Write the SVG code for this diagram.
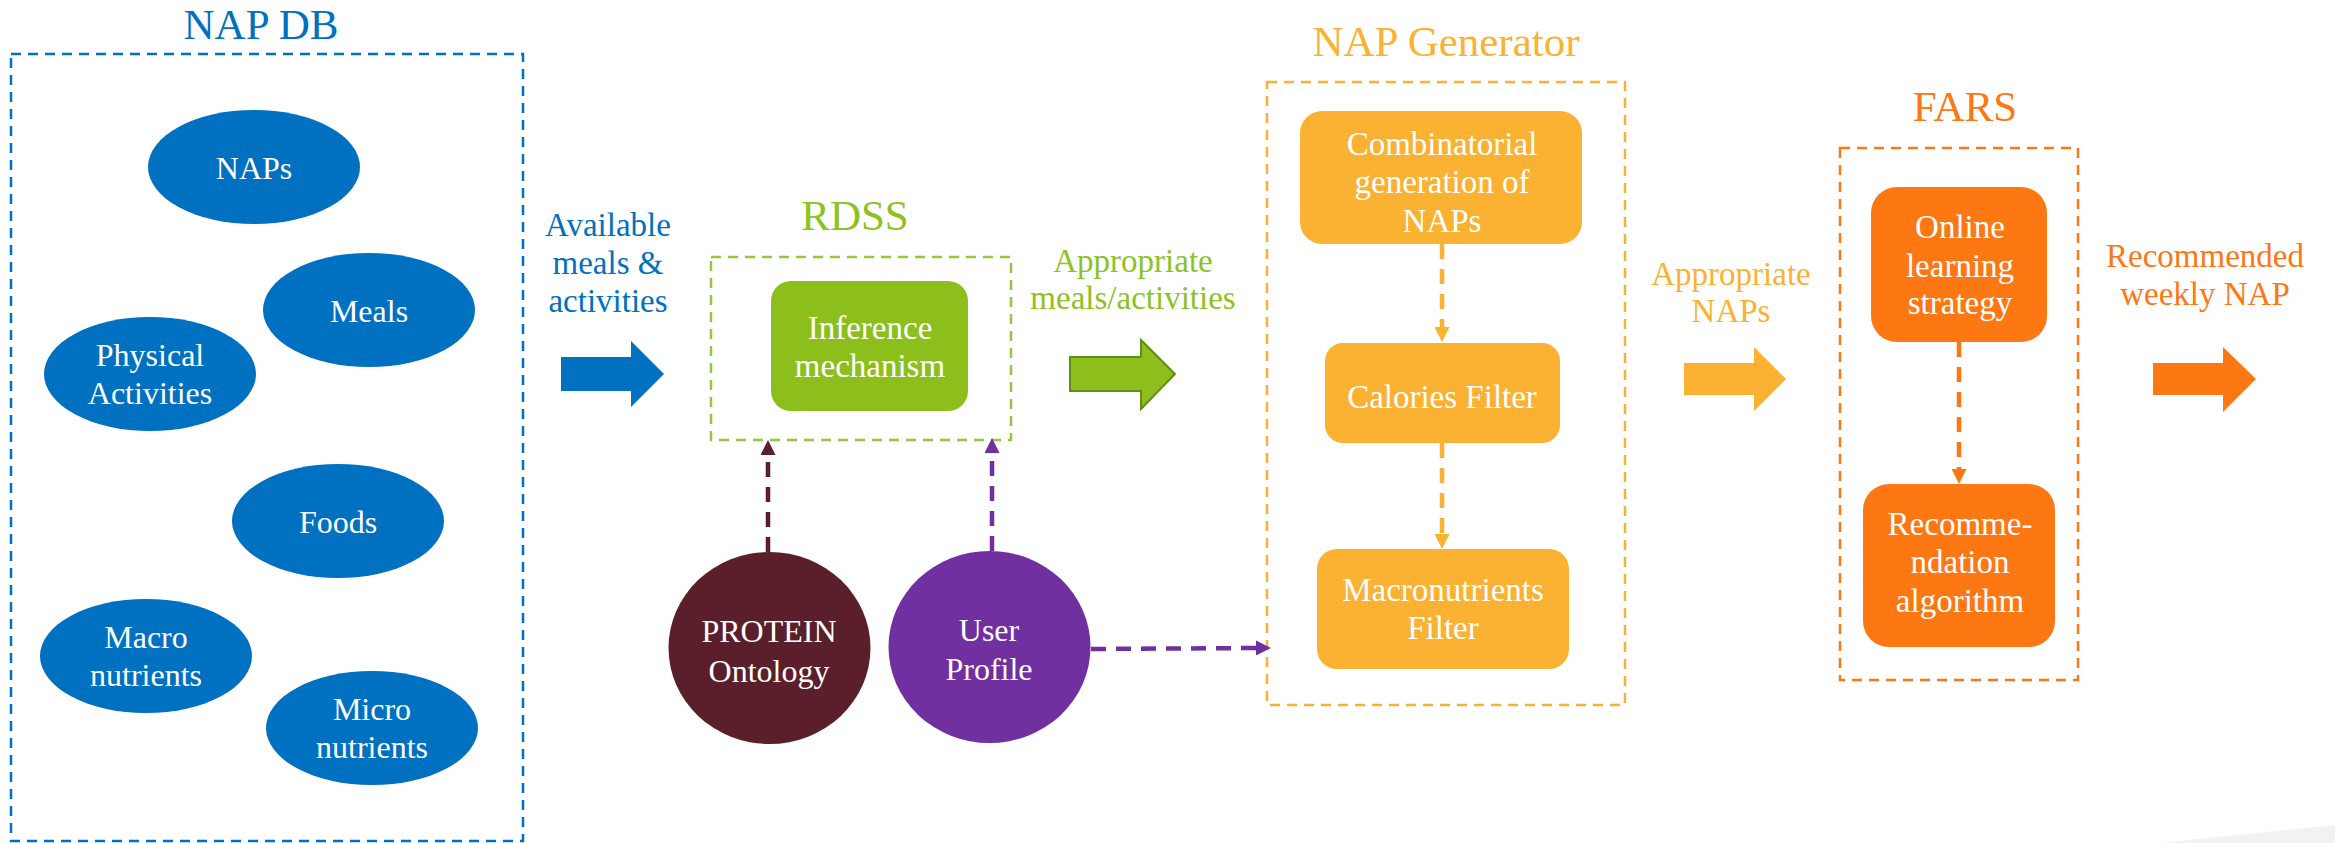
<svg xmlns="http://www.w3.org/2000/svg" width="2335" height="843" viewBox="0 0 2335 843">
<defs>
<style>
text{font-family:"Liberation Serif","DejaVu Serif",serif;text-anchor:middle}
.title{font-size:43px}
.lbl{font-size:33px}
.nt{font-size:32px;fill:#ffffff}
.box{fill:none;stroke-width:2.5;stroke-dasharray:10 7}
.con{fill:none;stroke-width:4.5;stroke-dasharray:15 10}
</style>
<marker id="mMaroon" viewBox="0 0 10 10" refX="0" refY="5" markerUnits="userSpaceOnUse" markerWidth="15" markerHeight="15" orient="auto"><path d="M0,0 L10,5 L0,10 z" fill="#5B1F2C"/></marker>
<marker id="mPurple" viewBox="0 0 10 10" refX="0" refY="5" markerUnits="userSpaceOnUse" markerWidth="15" markerHeight="15" orient="auto"><path d="M0,0 L10,5 L0,10 z" fill="#7030A0"/></marker>
<marker id="mYellow" viewBox="0 0 10 10" refX="0" refY="5" markerUnits="userSpaceOnUse" markerWidth="15" markerHeight="15" orient="auto"><path d="M0,0 L10,5 L0,10 z" fill="#FBB131"/></marker>
<marker id="mOrange" viewBox="0 0 10 10" refX="0" refY="5" markerUnits="userSpaceOnUse" markerWidth="15" markerHeight="15" orient="auto"><path d="M0,0 L10,5 L0,10 z" fill="#FD7713"/></marker>
</defs>
<rect width="2335" height="843" fill="#ffffff"/>
<polygon points="2160,843 2335,825 2335,843" fill="#F2F2F2"/>

<!-- Group containers -->
<g id="napdb">
<text class="title" x="261" y="39" fill="#0070C0">NAP DB</text>
<rect class="box" x="11" y="54" width="512" height="787" stroke="#0070C0"/>
</g>
<g id="rdss">
<text class="title" x="855" y="230" fill="#8DC21F">RDSS</text>
<rect class="box" x="711" y="257" width="300" height="183" stroke="#92C83E"/>
</g>
<g id="napgen">
<text class="title" x="1446" y="56" fill="#FBB131">NAP Generator</text>
<rect class="box" x="1267" y="82" width="358" height="623" stroke="#FBB131"/>
</g>
<g id="fars">
<text class="title" x="1965" y="121" fill="#FD7713">FARS</text>
<rect class="box" x="1840" y="148" width="238" height="532" stroke="#FD7713"/>
</g>

<!-- NAP DB nodes -->
<g id="naps"><ellipse cx="254" cy="167" rx="106" ry="57" fill="#0070C0"/><text class="nt" x="254" y="179">NAPs</text></g>
<g id="meals"><ellipse cx="369" cy="310" rx="106" ry="57" fill="#0070C0"/><text class="nt" x="369" y="322">Meals</text></g>
<g id="physical"><ellipse cx="150" cy="374" rx="106" ry="57" fill="#0070C0"/><text class="nt" x="150" y="366">Physical</text><text class="nt" x="150" y="404">Activities</text></g>
<g id="foods"><ellipse cx="338" cy="521" rx="106" ry="57" fill="#0070C0"/><text class="nt" x="338" y="533">Foods</text></g>
<g id="macro"><ellipse cx="146" cy="656" rx="106" ry="57" fill="#0070C0"/><text class="nt" x="146" y="648">Macro</text><text class="nt" x="146" y="686">nutrients</text></g>
<g id="micro"><ellipse cx="372" cy="728" rx="106" ry="57" fill="#0070C0"/><text class="nt" x="372" y="720">Micro</text><text class="nt" x="372" y="758">nutrients</text></g>

<!-- RDSS node -->
<g id="inference"><rect x="771" y="281" width="197" height="130" rx="20" fill="#8CBF1C"/><text class="nt" x="870" y="339" style="font-size:33px">Inference</text><text class="nt" x="870" y="377" style="font-size:33px">mechanism</text></g>

<!-- Sources -->
<g id="protein"><ellipse cx="769.5" cy="648" rx="101" ry="96" fill="#5B1F2C"/><text class="nt" x="769" y="642">PROTEIN</text><text class="nt" x="769" y="682">Ontology</text></g>
<g id="user"><ellipse cx="989.5" cy="647" rx="101" ry="96" fill="#7030A0"/><text class="nt" x="989" y="641">User</text><text class="nt" x="989" y="680">Profile</text></g>

<!-- NAP Generator nodes -->
<g id="combinatorial"><rect x="1300" y="111" width="282" height="133" rx="22" fill="#FBB131"/><text class="nt" x="1442" y="155" style="font-size:33px">Combinatorial</text><text class="nt" x="1442" y="193" style="font-size:33px">generation of</text><text class="nt" x="1442" y="232" style="font-size:33px">NAPs</text></g>
<g id="calories"><rect x="1325" y="343" width="235" height="100" rx="18" fill="#FBB131"/><text class="nt" x="1442" y="408" style="font-size:33px">Calories Filter</text></g>
<g id="macrofilter"><rect x="1317" y="549" width="252" height="120" rx="20" fill="#FBB131"/><text class="nt" x="1443" y="601" style="font-size:33px">Macronutrients</text><text class="nt" x="1443" y="639" style="font-size:33px">Filter</text></g>

<!-- FARS nodes -->
<g id="online"><rect x="1871" y="187" width="176" height="155" rx="26" fill="#FD7713"/><text class="nt" x="1960" y="238" style="font-size:33px">Online</text><text class="nt" x="1960" y="277" style="font-size:33px">learning</text><text class="nt" x="1960" y="314" style="font-size:33px">strategy</text></g>
<g id="recommendation"><rect x="1863" y="484" width="192" height="163" rx="26" fill="#FD7713"/><text class="nt" x="1960" y="535" style="font-size:33px">Recomme-</text><text class="nt" x="1960" y="573" style="font-size:33px">ndation</text><text class="nt" x="1960" y="612" style="font-size:33px">algorithm</text></g>

<!-- Flow labels -->
<g id="labels">
<text class="lbl" x="608" y="236" fill="#0070C0">Available</text>
<text class="lbl" x="608" y="274" fill="#0070C0">meals &amp;</text>
<text class="lbl" x="608" y="312" fill="#0070C0">activities</text>
<text class="lbl" x="1133" y="272" fill="#8DC21F">Appropriate</text>
<text class="lbl" x="1133" y="309" fill="#8DC21F">meals/activities</text>
<text class="lbl" x="1731" y="285" fill="#FBB131">Appropriate</text>
<text class="lbl" x="1731" y="322" fill="#FBB131">NAPs</text>
<text class="lbl" x="2205" y="267" fill="#FD7713">Recommended</text>
<text class="lbl" x="2205" y="305" fill="#FD7713">weekly NAP</text>
</g>

<!-- Connectors -->
<g id="connectors">
<polygon points="561,357 631,357 631,341 664,374 631,407 631,391 561,391" fill="#0070C0"/>
<polygon points="1070,357 1141,357 1141,340 1175,374 1141,409 1141,391 1070,391" fill="#8CBF1C" stroke="#5F8F15" stroke-width="2"/>
<polygon points="1684,363 1754,363 1754,347 1786,379 1754,411 1754,395 1684,395" fill="#FBB131"/>
<polygon points="2153,363 2223,363 2223,347 2256,379 2223,412 2223,395 2153,395" fill="#FD7713"/>
<line class="con" x1="768" y1="552" x2="768" y2="455" stroke="#5B1F2C" marker-end="url(#mMaroon)"/>
<line class="con" x1="992" y1="551" x2="992" y2="453" stroke="#7030A0" marker-end="url(#mPurple)"/>
<line class="con" x1="1091" y1="649" x2="1256" y2="648" stroke="#7030A0" marker-end="url(#mPurple)"/>
<line class="con" x1="1442" y1="244" x2="1442" y2="327" stroke="#FBB131" marker-end="url(#mYellow)"/>
<line class="con" x1="1442" y1="443" x2="1442" y2="534" stroke="#FBB131" marker-end="url(#mYellow)"/>
<line class="con" x1="1959" y1="342" x2="1959" y2="469" stroke="#FD7713" marker-end="url(#mOrange)"/>
</g>
</svg>
